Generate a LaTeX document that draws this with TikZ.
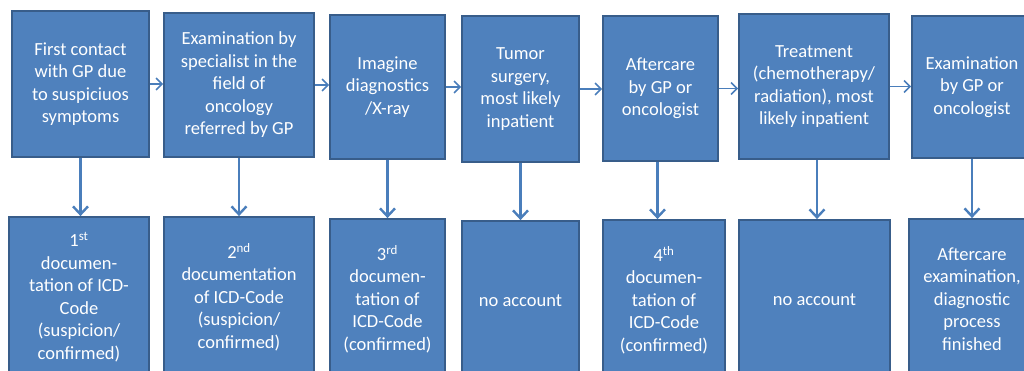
\documentclass[tikz,border=0pt]{standalone}
\usepackage{fontspec}
\setmainfont{Carlito}
\usetikzlibrary{arrows.meta}
\definecolor{boxfill}{HTML}{4F81BD}
\definecolor{boxline}{HTML}{385D8A}
\definecolor{arrowcol}{HTML}{4A7EBB}

\begin{document}
\begin{tikzpicture}[x=1pt, y=-1pt,
    stepbox/.style={draw=boxline, line width=1.8pt, fill=boxfill, text=white, align=center,
        font=\fontsize{18.5}{22.5}\selectfont, inner sep=0pt},
    nextarrow/.style={draw=arrowcol, line width=1.5pt, -{Straight Barb[length=6pt,width=12pt]}},
    docarrow/.style={draw=arrowcol, line width=2.4pt, -{Straight Barb[length=8pt,width=15pt]}}]
            \useasboundingbox (0,0) rectangle (1024,371);
            \clip (0,0) rectangle (1024,371);
            \node[stepbox, minimum width=137pt, minimum height=146pt] (t1) at (80.5,84) {First contact\\with GP due\\to suspiciuos\\symptoms};
            \node[stepbox, minimum width=150pt, minimum height=144pt] (t2) at (239,85) {Examination by\\specialist in the\\field of\\oncology\\referred by GP};
            \node[stepbox, minimum width=115pt, minimum height=144pt] (t3) at (387.5,87) {Imagine\\diagnostics\\/X-ray};
            \node[stepbox, minimum width=117pt, minimum height=146pt] (t4) at (520.5,89) {Tumor\\surgery,\\most likely\\inpatient};
            \node[stepbox, minimum width=115pt, minimum height=145pt] (t5) at (660.5,88.5) {Aftercare\\by GP or\\oncologist};
            \node[stepbox, minimum width=150pt, minimum height=145pt] (t6) at (814,86.5) {Treatment\\(chemotherapy/\\radiation), most\\likely inpatient};
            \node[stepbox, minimum width=120pt, minimum height=142pt] (t7) at (972,87) {Examination\\by GP or\\oncologist};

            \node[stepbox, minimum width=140pt, minimum height=160pt] (b1) at (79,297) {1\textsuperscript{st}\\documen-\\tation of ICD-\\Code\\(suspicion/\\confirmed)};
            \node[stepbox, minimum width=150pt, minimum height=160pt] (b2) at (239,297) {2\textsuperscript{nd}\\documentation\\of ICD-Code\\(suspicion/\\confirmed)};
            \node[stepbox, minimum width=115pt, minimum height=160pt] (b3) at (387.5,299) {3\textsuperscript{rd}\\documen-\\tation of\\ICD-Code\\(confirmed)};
            \node[stepbox, minimum width=117pt, minimum height=160pt] (b4) at (520.5,301) {no account};
            \node[stepbox, minimum width=122pt, minimum height=160pt] (b5) at (664,300) {4\textsuperscript{th}\\documen-\\tation of\\ICD-Code\\(confirmed)};
            \node[stepbox, minimum width=151pt, minimum height=160pt] (b6) at (814.5,300) {no account};
            \node[stepbox, minimum width=126pt, minimum height=160pt] (b7) at (972,299) {Aftercare\\examination,\\diagnostic\\process\\finished};

            \draw[nextarrow] (t1.east) -- (t1.east -| t2.west);
            \draw[nextarrow] (t2.east) -- (t2.east -| t3.west);
            \draw[nextarrow] (t3.east) -- (t3.east -| t4.west);
            \draw[nextarrow] (t4.east) -- (t4.east -| t5.west);
            \draw[nextarrow] (t5.east) -- (t5.east -| t6.west);
            \draw[nextarrow] (t6.east) -- (t6.east -| t7.west);

            \draw[docarrow] (t1.south) -- (t1.south |- b1.north);
            \draw[docarrow] (t2.south) -- (t2.south |- b2.north);
            \draw[docarrow] (t3.south) -- (t3.south |- b3.north);
            \draw[docarrow] (t4.south) -- (t4.south |- b4.north);
            \draw[docarrow] ([xshift=-3pt]t5.south) -- ([xshift=-3pt]t5.south |- b5.north);
            \draw[docarrow] ([xshift=3pt]t6.south) -- ([xshift=3pt]t6.south |- b6.north);
            \draw[docarrow] (t7.south) -- (t7.south |- b7.north);
        \end{tikzpicture}
\end{document}
